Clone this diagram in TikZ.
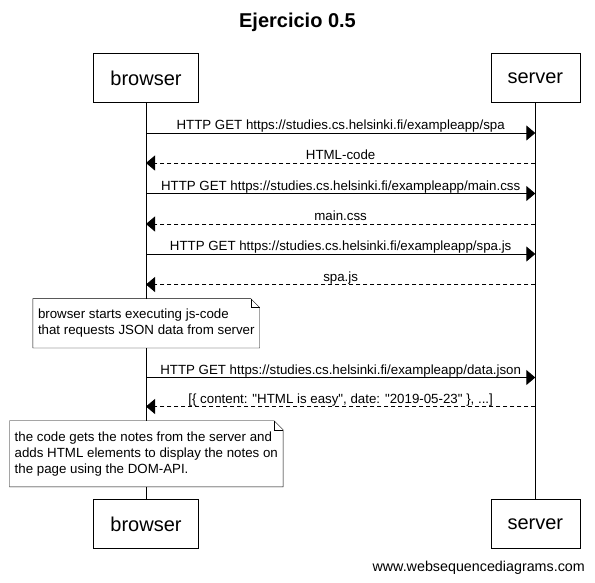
\documentclass[tikz,border=0pt]{standalone}
\usepackage{fontspec}
\setmainfont{Liberation Sans}
\usetikzlibrary{arrows.meta}

\begin{document}
\begin{tikzpicture}[x=1pt,y=-1pt,
	actor/.style={shape=rectangle,draw=black,minimum width=105pt,minimum height=49pt,font=\fontsize{20}{24}\selectfont},
	call/.style={-{Triangle[length=9pt,width=15pt]},line width=0.9pt},
	reply/.style={-{Triangle[length=9pt,width=15pt]},line width=0.9pt,dash pattern=on 4pt off 3pt},
	msg/.style={anchor=base,yshift=3.5pt,inner sep=0pt,font=\fontsize{13.3}{15.5}\selectfont},
	notebox/.style={shape=rectangle,fill=white,inner xsep=5pt,inner ysep=4pt,align=left,font=\fontsize{13.3}{15.8}\selectfont}]
	
	\useasboundingbox (0,0) rectangle (595,582);
	
	\node[font=\bfseries\fontsize{20}{24}\selectfont] (title) at (297.5,22) {Ejercicio 0.5};
	
	\node[actor] (bt) at (146,78)    {browser};
	\node[actor,minimum width=89pt] (st) at (535.3,78)  {server};
	\node[actor] (bb) at (146,524)   {browser};
	\node[actor,minimum width=89pt] (sb) at (535.3,524) {server};
	\path[-] (bt) edge (bb);
	\path[-] (st) edge (sb);
	
	\coordinate (b1) at (146,133);   \coordinate (s1) at (535.3,133);
	\coordinate (b2) at (146,163);   \coordinate (s2) at (535.3,163);
	\coordinate (b3) at (146,193.5); \coordinate (s3) at (535.3,193.5);
	\coordinate (b4) at (146,224);   \coordinate (s4) at (535.3,224);
	\coordinate (b5) at (146,254);   \coordinate (s5) at (535.3,254);
	\coordinate (b6) at (146,284.5); \coordinate (s6) at (535.3,284.5);
	\coordinate (b7) at (146,377.5); \coordinate (s7) at (535.3,377.5);
	\coordinate (b8) at (146,406.5); \coordinate (s8) at (535.3,406.5);
	
	\path[call]  (b1) edge node[msg] {HTTP GET https://studies.cs.helsinki.fi/exampleapp/spa} (s1);
	\path[reply] (s2) edge node[msg] {HTML-code} (b2);
	\path[call]  (b3) edge node[msg] {HTTP GET https://studies.cs.helsinki.fi/exampleapp/main.css} (s3);
	\path[reply] (s4) edge node[msg] {main.css} (b4);
	\path[call]  (b5) edge node[msg] {HTTP GET https://studies.cs.helsinki.fi/exampleapp/spa.js} (s5);
	\path[reply] (s6) edge node[msg] {spa.js} (b6);
	\path[call]  (b7) edge node[msg] {HTTP GET https://studies.cs.helsinki.fi/exampleapp/data.json} (s7);
	\path[reply] (s8) edge node[msg] {[\{ content: \textquotedbl HTML is easy\textquotedbl, date: \textquotedbl 2019-05-23\textquotedbl\ \}, ...]} (b8);
	
	% notes with folded corner
	\node[notebox,minimum width=226pt,minimum height=49pt] (n1) at (146.3,323.3)
		{browser starts executing js-code\\that requests JSON data from server};
	\draw (n1.south west) -- (n1.north west) -- ([xshift=-9pt]n1.north east) -- ([yshift=-9pt]n1.north east) -- (n1.south east) -- cycle;
	\draw ([xshift=-9pt]n1.north east) -- ([xshift=-9pt,yshift=-9pt]n1.north east) -- ([yshift=-9pt]n1.north east);
	
	\node[notebox,minimum width=272.7pt,minimum height=65.7pt] (n2) at (146.3,453.8)
		{the code gets the notes from the server and\\adds HTML elements to display the notes on\\the page using the DOM-API.};
	\draw (n2.south west) -- (n2.north west) -- ([xshift=-9pt]n2.north east) -- ([yshift=-9pt]n2.north east) -- (n2.south east) -- cycle;
	\draw ([xshift=-9pt]n2.north east) -- ([xshift=-9pt,yshift=-9pt]n2.north east) -- ([yshift=-9pt]n2.north east);
	
	\node[anchor=base east,inner sep=0pt,font=\fontsize{14.3}{16}\selectfont] (wsd) at (585,571) {www.websequencediagrams.com};
	
\end{tikzpicture}
\end{document}
